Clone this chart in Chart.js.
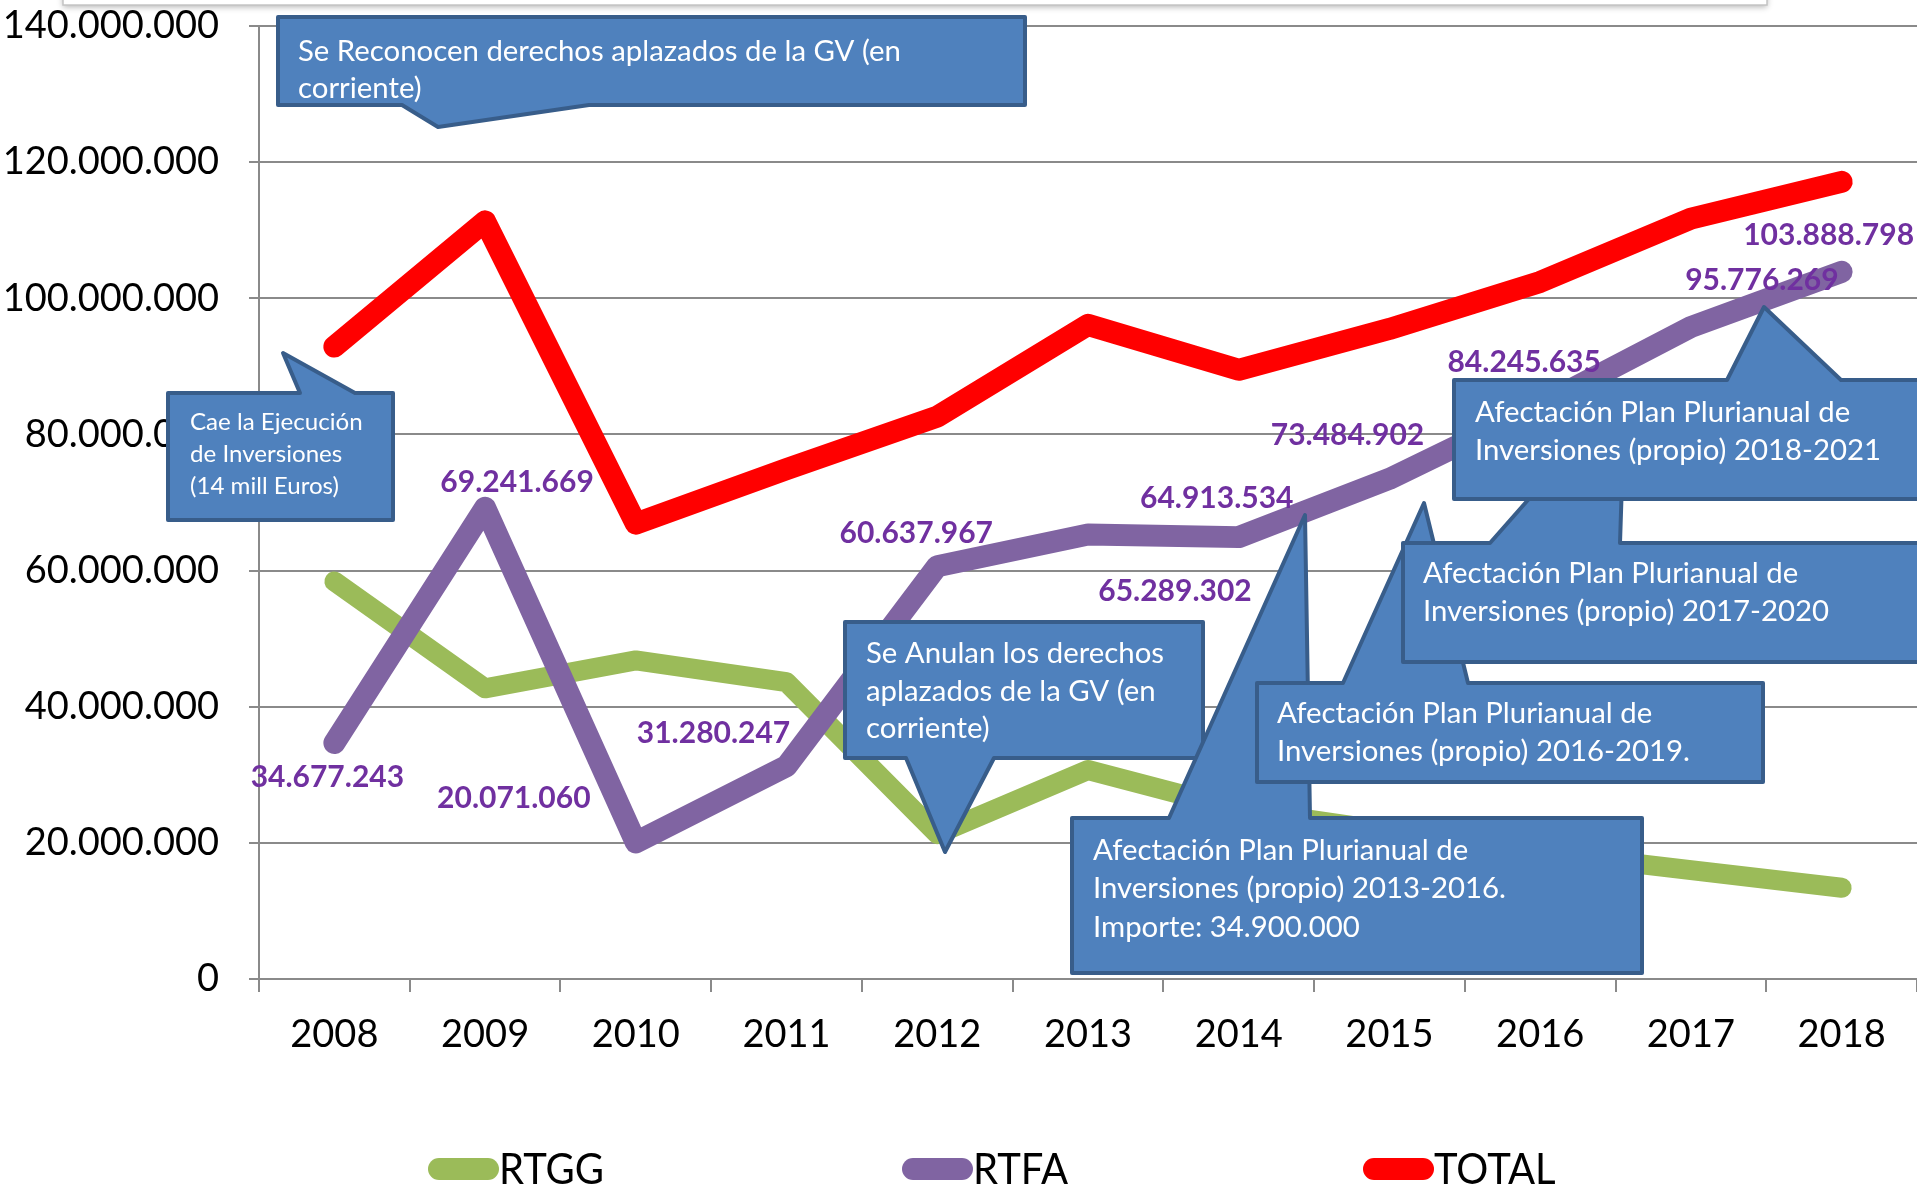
<!DOCTYPE html>
<html>
<head>
<meta charset="utf-8">
<style>
  html, body { margin: 0; padding: 0; background: #fff; }
  canvas { display: block; }
</style>
<script src="https://cdn.jsdelivr.net/npm/chart.js@4.4.1/dist/chart.umd.min.js"></script>
</head>
<body>
<canvas id="chart" width="1917" height="1186" style="width:1917px;height:1186px"></canvas>
<script>
// ======================
// Datos
// ======================
const years = ['2008', '2009', '2010', '2011', '2012', '2013', '2014', '2015', '2016', '2017', '2018'];
const rtgg = [58400000, 42700000, 46800000, 43600000, 21300000, 30700000, 24900000, 21700000, 18600000, 16000000, 13400000];
const rtfa = [34677243, 69241669, 20071060, 31280247, 60637967, 65289302, 64913534, 73484902, 84245635, 95776269, 103888798];
const total = [92900000, 111300000, 66900000, 74900000, 82600000, 96100000, 89500000, 95500000, 102400000, 111700000, 117100000];
const seriesNames = ['RTGG', 'RTFA', 'TOTAL'];
const yMax = 140000000;
const yStep = 20000000;

// textos de los globos
const notes = [
  ['Se Reconocen derechos aplazados de la GV (en', 'corriente)'],
  ['Cae la Ejecución', 'de Inversiones', '(14 mill Euros)'],
  ['Se Anulan los derechos', 'aplazados de la GV (en', 'corriente)'],
  ['Afectación Plan Plurianual de', 'Inversiones (propio) 2013-2016.', 'Importe: 34.900.000'],
  ['Afectación Plan Plurianual de', 'Inversiones (propio) 2016-2019.'],
  ['Afectación Plan Plurianual de', 'Inversiones (propio) 2017-2020'],
  ['Afectación Plan Plurianual de', 'Inversiones (propio) 2018-2021']
];

// ======================
// Maquetación (píxeles)
// ======================
const FONT = 'Lato, "Open Sans", sans-serif';
const GRID = '#8a8a8a';

// desplazamiento de cada etiqueta RTFA respecto a su punto
const labelOffsets = [[-7, 33], [32, -27], [-122, -45], [-73, -34], [-21, -34], [87, 55],
                      [-22, -40], [-42, -45], [-16, -45], [71, -48], [-13, -38]];

const noteBoxes = [
  { rect: [278, 17, 1025, 105], side: 'bottom', base: [402, 589], tip: [438, 127], tx: 298, ty: 51, gap: 36.7, size: 28 },
  { rect: [168, 393, 393, 520], side: 'top', base: [300, 355], tip: [283, 353], tx: 190, ty: 422, gap: 31.7, size: 23 },
  { rect: [845, 622, 1203, 758], side: 'bottom', base: [906, 994], tip: [945, 852], tx: 866, ty: 653, gap: 37.5, size: 28 },
  { rect: [1072, 818, 1642, 973], side: 'top', base: [1169, 1310], tip: [1305, 515], tx: 1093, ty: 850, gap: 38.3, size: 28 },
  { rect: [1257, 683, 1763, 782], side: 'top', base: [1343, 1468], tip: [1424, 503], tx: 1277, ty: 713, gap: 38.4, size: 28 },
  { rect: [1403, 543, 1930, 662], side: 'top', base: [1490, 1620], tip: [1625, 390], tx: 1423, ty: 573, gap: 38.4, size: 28 },
  { rect: [1454, 380, 1930, 499], side: 'top', base: [1727, 1841], tip: [1764, 307], tx: 1475, ty: 412, gap: 37.6, size: 28 }
];

const legendX = [428, 902, 1363];

function fmtMiles(v) {
  return String(Math.round(v)).replace(/\B(?=(\d{3})+(?!\d))/g, '.');
}

// texto con compresión horizontal (imita el ancho de Calibri)
function drawText(ctx, str, x, y, font, sx, align) {
  ctx.save();
  ctx.font = font;
  ctx.textAlign = 'left';
  ctx.textBaseline = 'alphabetic';
  const w = ctx.measureText(str).width * sx;
  const left = align === 'center' ? x - w / 2 : x;
  ctx.translate(left, y);
  ctx.scale(sx, 1);
  ctx.fillText(str, 0, 0);
  ctx.restore();
}

function widthScale(ctx, str, font, target) {
  ctx.save();
  ctx.font = font;
  const w = ctx.measureText(str).width;
  ctx.restore();
  return Math.min(1.1, target / w);
}

function drawCallout(ctx, box, lines, sx) {
  const [x1, y1, x2, y2] = box.rect;
  ctx.save();
  ctx.beginPath();
  ctx.moveTo(x1, y1);
  if (box.side === 'top') {
    ctx.lineTo(box.base[0], y1);
    ctx.lineTo(box.tip[0], box.tip[1]);
    ctx.lineTo(box.base[1], y1);
  }
  ctx.lineTo(x2, y1);
  ctx.lineTo(x2, y2);
  if (box.side === 'bottom') {
    ctx.lineTo(box.base[1], y2);
    ctx.lineTo(box.tip[0], box.tip[1]);
    ctx.lineTo(box.base[0], y2);
  }
  ctx.lineTo(x1, y2);
  ctx.closePath();
  ctx.fillStyle = '#4F81BD';
  ctx.fill();
  ctx.lineWidth = 4;
  ctx.lineJoin = 'round';
  ctx.strokeStyle = '#385D8A';
  ctx.stroke();
  ctx.fillStyle = '#ffffff';
  lines.forEach((line, i) => {
    drawText(ctx, line, box.tx, box.ty + i * box.gap + box.size * 0.36, box.size + 'px ' + FONT, sx, 'left');
  });
  ctx.restore();
}

// ======================
// Plugin de decoración
// ======================
const decorPlugin = {
  id: 'decor',
  beforeDraw(chart) {
    const ctx = chart.ctx;
    ctx.save();
    ctx.fillStyle = '#ffffff';
    ctx.fillRect(0, 0, chart.width, chart.height);
    ctx.restore();
  },
  afterDatasetsDraw(chart) {
    const ctx = chart.ctx;
    const meta = chart.getDatasetMeta(1);
    ctx.save();
    ctx.fillStyle = '#7030A0';
    meta.data.forEach((pt, i) => {
      const off = labelOffsets[i];
      drawText(ctx, fmtMiles(rtfa[i]), pt.x + off[0], pt.y + off[1] + 11, 'bold 30px ' + FONT, 1, 'center');
    });
    ctx.restore();
  },
  afterDraw(chart) {
    const ctx = chart.ctx;

    // globos
    const sx = widthScale(ctx, 'Se Anulan los derechos', '28px ' + FONT, 298);
    noteBoxes.forEach((box, i) => drawCallout(ctx, box, notes[i], sx));

    // leyenda
    const lsx = widthScale(ctx, 'RTGG', '42px ' + FONT, 105);
    chart.data.datasets.forEach((ds, i) => {
      const x = legendX[i];
      ctx.save();
      ctx.strokeStyle = ds.borderColor;
      ctx.lineWidth = 22;
      ctx.lineCap = 'round';
      ctx.beginPath();
      ctx.moveTo(x + 11, 1169);
      ctx.lineTo(x + 60, 1169);
      ctx.stroke();
      ctx.fillStyle = '#000000';
      drawText(ctx, ds.label, x + 71, 1184, '42px ' + FONT, lsx, 'left');
      ctx.restore();
    });

    // caja superior recortada
    ctx.save();
    ctx.shadowColor = 'rgba(0,0,0,0.3)';
    ctx.shadowBlur = 6;
    ctx.shadowOffsetY = 2;
    ctx.fillStyle = '#ffffff';
    ctx.fillRect(63, -20, 1704, 25);
    ctx.shadowColor = 'transparent';
    ctx.strokeStyle = '#c4c4c4';
    ctx.lineWidth = 1.5;
    ctx.strokeRect(63, -20, 1704, 25);
    ctx.restore();
  }
};

// ======================
// Gráfico
// ======================
const chartCtx = document.getElementById('chart').getContext('2d');
const chart = new Chart(chartCtx, {
  type: 'line',
  data: {
    labels: years,
    datasets: [
      { label: seriesNames[0], data: rtgg, borderColor: '#9BBB59', backgroundColor: '#9BBB59', borderWidth: 20, order: 3 },
      { label: seriesNames[1], data: rtfa, borderColor: '#8064A2', backgroundColor: '#8064A2', borderWidth: 22, order: 2 },
      { label: seriesNames[2], data: total, borderColor: '#FF0000', backgroundColor: '#FF0000', borderWidth: 22, order: 1 }
    ]
  },
  options: {
    responsive: false,
    animation: false,
    devicePixelRatio: 1,
    layout: { padding: { left: 4, right: 0, top: 0, bottom: 0 } },
    elements: {
      point: { radius: 0, hoverRadius: 0 },
      line: { tension: 0, borderCapStyle: 'round', borderJoinStyle: 'round', fill: false }
    },
    plugins: {
      legend: { display: false },
      tooltip: { enabled: false }
    },
    scales: {
      x: {
        offset: true,
        grid: { offset: true, drawOnChartArea: false, tickLength: 13, color: GRID, lineWidth: 2 },
        border: { color: GRID, width: 2 },
        ticks: { font: { family: FONT, size: 38 }, color: '#000', padding: 20, maxRotation: 0, autoSkip: false },
        afterFit: s => { s.height = 207; s.paddingLeft = 0; s.paddingRight = 0; }
      },
      y: {
        min: 0,
        max: yMax,
        ticks: {
          stepSize: yStep,
          font: { family: FONT, size: 38 },
          color: '#000',
          padding: 30,
          callback: v => fmtMiles(v)
        },
        grid: { color: GRID, lineWidth: 2, tickLength: 10 },
        border: { color: GRID, width: 2 },
        afterFit: s => { s.width = 255; s.paddingTop = 26; s.paddingBottom = 0; }
      }
    }
  },
  plugins: [decorPlugin]
});
</script>
</body>
</html>
